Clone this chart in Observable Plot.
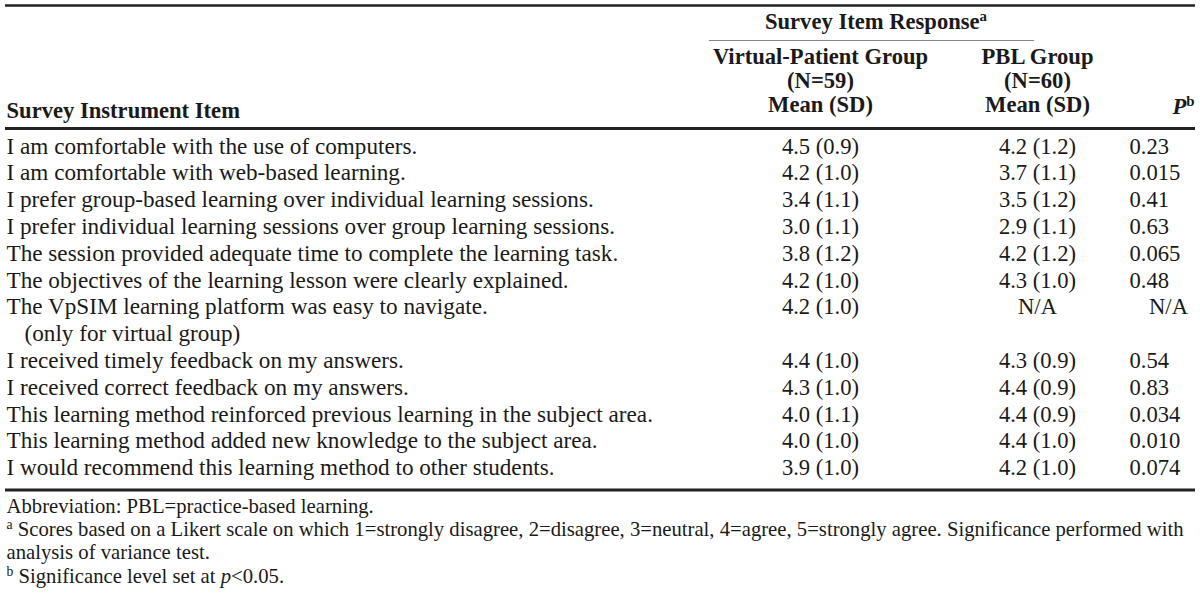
<!DOCTYPE html>
<html>
<head>
<meta charset="utf-8">
<script src="https://cdn.jsdelivr.net/npm/d3@7"></script>
<script src="https://cdn.jsdelivr.net/npm/@observablehq/plot@0.6"></script>
<style>
  html, body { margin: 0; padding: 0; background: #fff; }
  #chart svg { display: block; }
</style>
</head>
<body>
<div id="chart"></div>
<script>
// ---------- data ----------
const items = [
  "I am comfortable with the use of computers.",
  "I am comfortable with web-based learning.",
  "I prefer group-based learning over individual learning sessions.",
  "I prefer individual learning sessions over group learning sessions.",
  "The session provided adequate time to complete the learning task.",
  "The objectives of the learning lesson were clearly explained.",
  "The VpSIM learning platform was easy to navigate.",
  "I received timely feedback on my answers.",
  "I received correct feedback on my answers.",
  "This learning method reinforced previous learning in the subject area.",
  "This learning method added new knowledge to the subject area.",
  "I would recommend this learning method to other students."
];
const itemNotes = ["", "", "", "", "", "", "(only for virtual group)", "", "", "", "", ""];
const vpMean  = [4.5, 4.2, 3.4, 3.0, 3.8, 4.2, 4.2, 4.4, 4.3, 4.0, 4.0, 3.9];
const vpSD    = [0.9, 1.0, 1.1, 1.1, 1.2, 1.0, 1.0, 1.0, 1.0, 1.1, 1.0, 1.0];
const pblMean = [4.2, 3.7, 3.5, 2.9, 4.2, 4.3, null, 4.3, 4.4, 4.4, 4.4, 4.2];
const pblSD   = [1.2, 1.1, 1.2, 1.1, 1.2, 1.0, null, 0.9, 0.9, 0.9, 1.0, 1.0];
const pValues = [0.23, 0.015, 0.41, 0.63, 0.065, 0.48, null, 0.54, 0.83, 0.034, 0.010, 0.074];

const spanHeader = "Survey Item Response^{a}";
const groupHeaders = [
  ["Virtual-Patient Group", "(N=59)", "Mean (SD)"],
  ["PBL Group", "(N=60)", "Mean (SD)"]
];
const itemHeader = "Survey Instrument Item";
const pHeader = "*P*^{b}";
const footnotes = [
  "Abbreviation: PBL=practice-based learning.",
  "^{a} Scores based on a Likert scale on which 1=strongly disagree, 2=disagree, 3=neutral, 4=agree, 5=strongly agree. Significance performed with",
  "analysis of variance test.",
  "^{b} Significance level set at *p*<0.05."
];

// ---------- layout ----------
const W = 1200, H = 600;
const L = {
  left: 5, right: 1195,
  itemX: 6, noteIndent: 18,
  vpX: 820, pblX: 1037, pX: 1129, pNAX: 1168, pHeadX: 1194,
  spanX1: 709, spanX2: 1034,
  topRule: 5, spanRule: 40, headRule: 128,
  spanBase: 28, headBase0: 63, headStep: 24, itemHeadBase: 117,
  row0: 153, rowStep: 26.8,
  footBase0: 512, footStep: 23.4
};
const fmt1 = d3.format(".1f");
const fmtP = d3.format(".2r");

// one record per table row
const rows = items.map((item, i) => ({
  item,
  note: itemNotes[i],
  line: i + (i > 6 ? 1 : 0),
  vp: `${fmt1(vpMean[i])} (${fmt1(vpSD[i])})`,
  pbl: pblMean[i] == null ? "N/A" : `${fmt1(pblMean[i])} (${fmt1(pblSD[i])})`,
  p: pValues[i] == null ? "N/A" : fmtP(pValues[i]),
  pNA: pValues[i] == null
}));
const nLines = d3.max(rows, d => d.line) + 1;
const rowY = d => L.row0 + d.line * L.rowStep;
const bottomRule = L.row0 + (nLines - 1) * L.rowStep + 15;

const headerCells = groupHeaders.flatMap((lines, g) =>
  lines.map((text, k) => ({text, x: g === 0 ? L.vpX : L.pblX, y: L.headBase0 + k * L.headStep})));

const rules = [
  {y: L.topRule, x1: L.left, x2: L.right, w: 2.6, c: "#222"},
  {y: L.spanRule, x1: L.spanX1, x2: L.spanX2, w: 1, c: "#888"},
  {y: L.headRule, x1: L.left, x2: L.right, w: 3, c: "#222"},
  {y: bottomRule, x1: L.left, x2: L.right, w: 3, c: "#222"}
];

const ink = "#1a1a1a";
const font = "Liberation Serif";
const fs = 22.6;     // headers and numbers
const fsItem = 23.2; // item wording
const fsFoot = 20.7;

const plot = Plot.plot({
  width: W, height: H,
  margin: 0,
  x: {type: "linear", domain: [0, W], range: [0, W], axis: null},
  y: {type: "linear", domain: [0, H], range: [0, H], axis: null},
  style: {fontFamily: font, background: "#fff", color: ink},
  marks: [
    Plot.ruleY(rules, {y: "y", x1: "x1", x2: "x2", strokeWidth: "w", stroke: "c"}),
    // header
    Plot.text([spanHeader], {x: () => (L.spanX1 + L.spanX2) / 2 + 4, y: () => L.spanBase, text: d => d,
      fontWeight: "bold", fontSize: fs, lineAnchor: "bottom", textAnchor: "middle", fill: ink}),
    Plot.text(headerCells, {x: "x", y: "y", text: "text", fontWeight: "bold", fontSize: fs,
      lineAnchor: "bottom", textAnchor: "middle", fill: ink}),
    Plot.text([itemHeader], {x: () => L.itemX, y: () => L.itemHeadBase, text: d => d,
      fontWeight: "bold", fontSize: fs, lineAnchor: "bottom", textAnchor: "start", fill: ink}),
    Plot.text([pHeader], {x: () => L.pHeadX, y: () => L.headBase0 + 2 * L.headStep + 2, text: d => d,
      fontWeight: "bold", fontSize: fs, lineAnchor: "bottom", textAnchor: "end", fill: ink}),
    // body
    Plot.text(rows, {x: () => L.itemX, y: rowY, text: "item", fontSize: fsItem,
      lineAnchor: "bottom", textAnchor: "start", fill: ink}),
    Plot.text(rows.filter(d => d.note), {x: () => L.itemX + L.noteIndent, y: d => rowY(d) + L.rowStep, text: "note",
      fontSize: fsItem, lineAnchor: "bottom", textAnchor: "start", fill: ink}),
    Plot.text(rows, {x: () => L.vpX, y: rowY, text: "vp", fontSize: fs,
      lineAnchor: "bottom", textAnchor: "middle", fill: ink}),
    Plot.text(rows, {x: () => L.pblX, y: rowY, text: "pbl", fontSize: fs,
      lineAnchor: "bottom", textAnchor: "middle", fill: ink}),
    Plot.text(rows.filter(d => !d.pNA), {x: () => L.pX, y: rowY, text: "p", fontSize: fs,
      lineAnchor: "bottom", textAnchor: "start", fill: ink}),
    Plot.text(rows.filter(d => d.pNA), {x: () => L.pNAX, y: rowY, text: "p", fontSize: fs,
      lineAnchor: "bottom", textAnchor: "middle", fill: ink}),
    // footnotes
    Plot.text(footnotes, {x: () => L.itemX, y: (d, i) => L.footBase0 + i * L.footStep, text: d => d,
      fontSize: fsFoot, lineAnchor: "bottom", textAnchor: "start", fill: ink})
  ]
});

// rich-text: ^{..} superscript, *..* italic
d3.select(plot).selectAll("text").each(function () {
  const t = this.textContent;
  if (!/\^\{|\*/.test(t)) return;
  const el = d3.select(this);
  el.text(null);
  const re = /\^\{([^}]*)\}|\*([^*]*)\*|([^*^]+)/g;
  let m;
  while ((m = re.exec(t))) {
    if (m[1] != null) {
      el.append("tspan").attr("baseline-shift", "super").attr("font-size", "0.66em").attr("font-style", "normal").text(m[1]);
    } else if (m[2] != null) {
      el.append("tspan").attr("font-style", "italic").text(m[2]);
    } else {
      el.append("tspan").text(m[3]);
    }
  }
});

document.getElementById("chart").appendChild(plot);
</script>
</body>
</html>
